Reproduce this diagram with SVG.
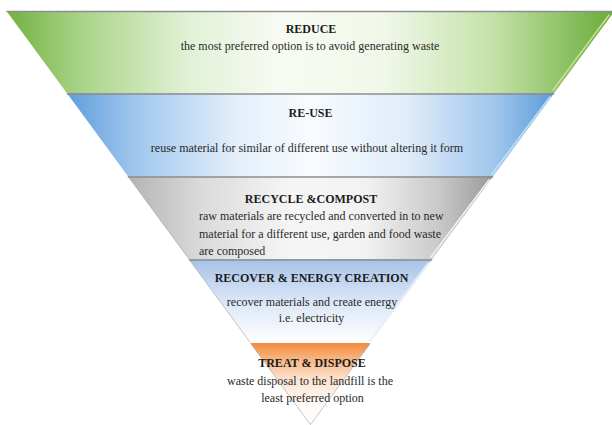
<svg xmlns="http://www.w3.org/2000/svg" width="612" height="425" viewBox="0 0 612 425">
  <defs>
    <linearGradient id="gGreen" gradientUnits="userSpaceOnUse" x1="6" y1="0" x2="614" y2="0">
      <stop offset="0" stop-color="#72b040"/>
      <stop offset="0.12" stop-color="#a8d386"/>
      <stop offset="0.3" stop-color="#e2f1d6"/>
      <stop offset="0.45" stop-color="#f7fbf3"/>
      <stop offset="0.62" stop-color="#f1f8ea"/>
      <stop offset="0.8" stop-color="#c4e2a9"/>
      <stop offset="1" stop-color="#6aab38"/>
    </linearGradient>
    <linearGradient id="gBlue" gradientUnits="userSpaceOnUse" x1="66" y1="0" x2="555" y2="0">
      <stop offset="0" stop-color="#5f9ddb"/>
      <stop offset="0.15" stop-color="#a3c8ee"/>
      <stop offset="0.35" stop-color="#e4effa"/>
      <stop offset="0.5" stop-color="#f8fbfe"/>
      <stop offset="0.7" stop-color="#dfecf9"/>
      <stop offset="0.88" stop-color="#9fc5ec"/>
      <stop offset="1" stop-color="#5a9ad9"/>
    </linearGradient>
    <linearGradient id="gGray" gradientUnits="userSpaceOnUse" x1="127" y1="0" x2="494" y2="0">
      <stop offset="0" stop-color="#b3b3b3"/>
      <stop offset="0.2" stop-color="#dadada"/>
      <stop offset="0.45" stop-color="#f6f6f6"/>
      <stop offset="0.65" stop-color="#f2f2f2"/>
      <stop offset="0.85" stop-color="#c9c9c9"/>
      <stop offset="1" stop-color="#999999"/>
    </linearGradient>
    <linearGradient id="gRecover" gradientUnits="userSpaceOnUse" x1="0" y1="259" x2="0" y2="343">
      <stop offset="0" stop-color="#a6c1e8"/>
      <stop offset="0.45" stop-color="#d6e3f5"/>
      <stop offset="1" stop-color="#ffffff"/>
    </linearGradient>
    <linearGradient id="gOrange" gradientUnits="userSpaceOnUse" x1="0" y1="343" x2="0" y2="425">
      <stop offset="0" stop-color="#f38a3e"/>
      <stop offset="0.2" stop-color="#f7b783"/>
      <stop offset="0.45" stop-color="#fce4d2"/>
      <stop offset="0.75" stop-color="#fffaf6"/>
      <stop offset="1" stop-color="#ffffff"/>
    </linearGradient>
  </defs>
  <style>
    .head { font-family: "Liberation Serif", "Times New Roman", serif; font-size: 12px; font-weight: bold; fill: #1c1c1c; text-anchor: middle; }
    .body { font-family: "Liberation Serif", "Times New Roman", serif; font-size: 12px; fill: #2a2a2a; text-anchor: middle; }
    .left { text-anchor: start; }
    .rule { stroke: #8e8e8e; stroke-width: 1.6; fill: none; }
    .edge { stroke: #9a9a9a; stroke-width: 0.8; fill: none; opacity: 0.7; }
    .shine { stroke-width: 1.6; fill: none; stroke-linecap: round; }
  </style>

  <rect width="612" height="425" fill="#ffffff"/>

  <!-- Level 1: reduce -->
  <g id="reduce">
    <polygon points="6.5,11 614.5,11 554.2,93 66.8,93" fill="url(#gGreen)"/>
    <line class="rule" x1="6.5" y1="11.5" x2="614" y2="11.5" stroke="#a4a4a4"/>
    <line class="shine" x1="609" y1="15" x2="553" y2="90" stroke="#bde48f"/>
    <text class="head" x="311" y="33">REDUCE</text>
    <text class="body" x="310" y="50">the most preferred option is to avoid generating waste</text>
  </g>

  <!-- Level 2: re-use -->
  <g id="reuse">
    <polygon points="66.8,93 554.2,93 493.2,176 127.8,176" fill="url(#gBlue)"/>
    <line class="rule" x1="66.8" y1="94" x2="554.2" y2="94"/>
    <line class="shine" x1="550" y1="97" x2="492" y2="174" stroke="#c2e2fa"/>
    <text class="head" x="310.5" y="117">RE-USE</text>
    <text class="body" x="307" y="152">reuse material for similar of different use without altering it form</text>
  </g>

  <!-- Level 3: recycle and compost -->
  <g id="recycle">
    <polygon points="127.8,176 493.2,176 432.2,259 188.8,259" fill="url(#gGray)"/>
    <line class="rule" x1="127.8" y1="177" x2="493.2" y2="177"/>
    <line class="edge" x1="128.5" y1="177" x2="189" y2="259"/>
    <line class="shine" x1="489" y1="180" x2="431" y2="257" stroke="#f2f2f2"/>
    <text class="head" x="311" y="203">RECYCLE &amp;COMPOST</text>
    <text class="body left" x="199" y="220">raw materials are recycled and converted in to new</text>
    <text class="body left" x="199" y="237.5">material for a  different use, garden and food waste</text>
    <text class="body left" x="199" y="255">are composed</text>
  </g>

  <!-- Level 4: recover and energy creation -->
  <g id="recover">
    <polygon points="188.8,259 432.2,259 370.5,343 250.5,343" fill="url(#gRecover)"/>
    <line class="rule" x1="188.8" y1="260" x2="432.2" y2="260"/>
    <line class="edge" x1="189.5" y1="260" x2="250.5" y2="343"/>
    <line class="shine" x1="428" y1="263" x2="370" y2="341" stroke="#e6f0fb"/>
    <text class="head" x="311.5" y="281.5">RECOVER &amp; ENERGY CREATION</text>
    <text class="body" x="312" y="306">recover materials and create energy</text>
    <text class="body" x="311.5" y="322">i.e. electricity</text>
  </g>

  <!-- Level 5: treat and dispose -->
  <g id="dispose">
    <polygon points="250.5,343 370.5,343 310.5,424.6" fill="url(#gOrange)"/>
    <line class="edge" x1="251" y1="344" x2="310.5" y2="424.6" stroke="#c8c8c8"/>
    <line class="edge" x1="370" y1="344" x2="310.5" y2="424.6" stroke="#c8c8c8"/>
    <text class="head" x="312" y="367">TREAT &amp; DISPOSE</text>
    <text class="body" x="310" y="385">waste disposal to the landfill is the</text>
    <text class="body" x="312.5" y="401.5">least preferred option</text>
  </g>
</svg>
